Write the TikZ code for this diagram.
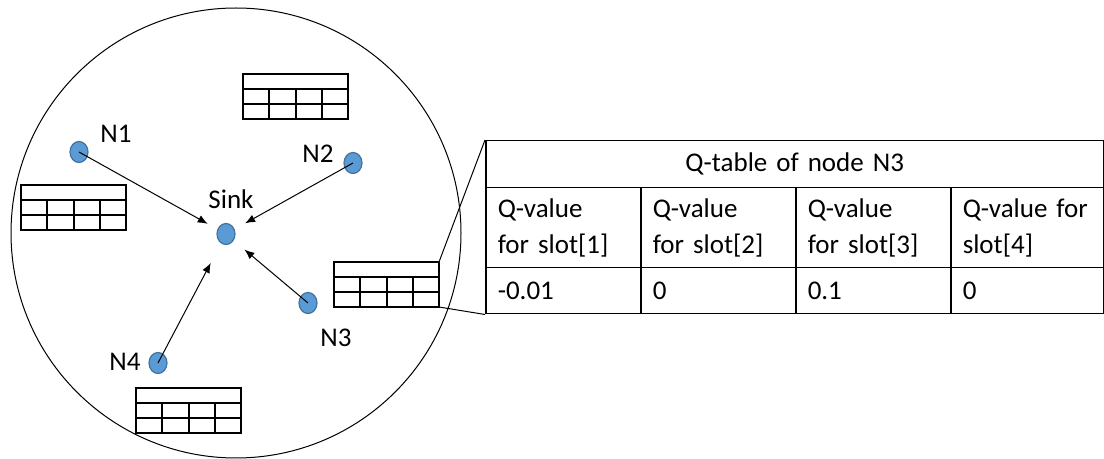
\documentclass[tikz,border=0pt]{standalone}
\usepackage{fontspec}
\setmainfont{Carlito}
\usetikzlibrary{arrows.meta,positioning,shapes.geometric}

\definecolor{nodeblue}{HTML}{5B9BD5}
\definecolor{nodeedge}{HTML}{41719C}

\tikzset{
  sensor/.style={ellipse, draw=nodeedge, fill=nodeblue, line width=0.6pt,
    minimum width=9pt, minimum height=10.5pt, inner sep=0pt},
  nlabel/.style={font=\fontsize{13.5}{15}\selectfont, inner sep=0pt},
  link/.style={-{Latex[length=5pt,width=4pt]}, line width=0.5pt},
  qcell/.style={draw, line width=0.75pt, anchor=north west, inner xsep=6pt,
    inner ysep=0pt, text width=65.5pt, align=left,
    font=\fontsize{13.5}{18}\selectfont},
  % small Q-table kept by every node
  qtab/.pic={
    \draw[line width=1pt] (0,0) rectangle (105,45);
    \draw[line width=1pt] (0,15) -- (105,15) (0,30) -- (105,30);
    \foreach \c in {1,2,3}
      \draw[line width=1pt] (26.25*\c,15) -- (26.25*\c,45);
    \coordinate (-ne) at (105,0);
    \coordinate (-se) at (105,45);
  }
}

\begin{document}
\begin{tikzpicture}[x=0.5pt,y=-0.5pt]
  \useasboundingbox (0,0) rectangle (1104,459);
  % network area
  \draw[line width=0.5pt] (236,233) circle[radius=225];

  % sink and sensor nodes
  \node[sensor] (sink) at (226,234) {};
  \node[sensor] (n1) at (79,152) {};
  \node[sensor] (n2) at (353,163) {};
  \node[sensor] (n3) at (308,303) {};
  \node[sensor] (n4) at (158,363) {};

  \node[nlabel] (lsink) at (231,199) {Sink};
  \node[nlabel] (l1) at (116,134) {N1};
  \node[nlabel] (l2) at (318,154) {N2};
  \node[nlabel] (l3) at (336,338) {N3};
  \node[nlabel] (l4) at (125,362) {N4};

  % packets towards the sink
  \draw[link, shorten >=5.5pt] (n1.center) -- (sink);
  \draw[link, shorten >=6pt] (n2.center) -- (sink);
  \draw[link, shorten >=7pt] (n3.center) -- (sink);
  \draw[link, shorten >=11pt] (n4.center) -- (sink);

  % local Q-tables
  \pic (tab2) at (243,74) {qtab};
  \pic (tab1) at (21,185) {qtab};
  \pic (tab3) at (334,262) {qtab};
  \pic (tab4) at (136,388) {qtab};

  % Q-table of N3, enlarged
  \node[qcell, text width=297pt, align=center, minimum height=23.5pt]
    (qhead) at (485,140) {Q-table of node N3};
  \foreach \i/\x/\w/\txt/\val in {
      1/485/65.5pt/{Q-value\\for slot[1]}/-0.01,
      2/640/65.5pt/{Q-value\\for slot[2]}/0,
      3/795/65.5pt/{Q-value\\for slot[3]}/0.1,
      4/950/64.5pt/{Q-value for\\slot[4]}/0} {
    \node[qcell, text width=\w, minimum height=40pt] (q\i) at (\x,187) {\txt};
    \node[qcell, text width=\w, minimum height=23pt] (v\i) at (\x,267) {\val};
  }

  % zoom lines
  \draw[line width=0.5pt] (tab3-ne) -- (qhead.north west);
  \draw[line width=0.5pt] (tab3-se) -- (v1.south west);
\end{tikzpicture}
\end{document}
